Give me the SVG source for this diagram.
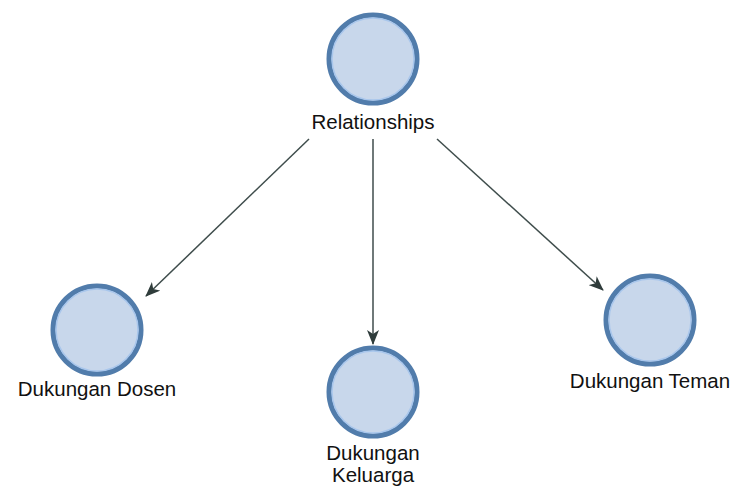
<svg xmlns="http://www.w3.org/2000/svg" width="740" height="489" viewBox="0 0 740 489">
<style>
.node-outer{fill:#c8d7eb;stroke:#517cab;stroke-width:5}
.node-inner{fill:none;stroke:#a8c6ec;stroke-width:1.5}
.label{font-family:"Liberation Sans",Arial,sans-serif;font-size:20.5px;fill:#111111;text-anchor:middle}
.edge{stroke:#3f4d4c;stroke-width:1.5;fill:none}
</style>
<defs>
<marker id="arrow" viewBox="0 0 15 12" refX="14" refY="6" markerWidth="15" markerHeight="12" markerUnits="userSpaceOnUse" orient="auto">
<path d="M0,0 L15,6 L0,12 L4,6 Z" fill="#2f3c3b"/>
</marker>
</defs>
<rect width="740" height="489" fill="#ffffff"/>
<g id="connectors">
<line class="edge" x1="309" y1="139" x2="146" y2="296" marker-end="url(#arrow)"/>
<line class="edge" x1="373" y1="139" x2="373" y2="344" marker-end="url(#arrow)"/>
<line class="edge" x1="437" y1="139" x2="603" y2="290" marker-end="url(#arrow)"/>
</g>
<g id="relationships">
<circle class="node-outer" cx="373" cy="59" r="44"/>
<circle class="node-inner" cx="373" cy="59" r="41"/>
<text class="label" x="373" y="129">Relationships</text>
</g>
<g id="dukungan-dosen">
<circle class="node-outer" cx="97" cy="330" r="44"/>
<circle class="node-inner" cx="97" cy="330" r="41"/>
<text class="label" x="97" y="396">Dukungan Dosen</text>
</g>
<g id="dukungan-keluarga">
<circle class="node-outer" cx="373" cy="392" r="44"/>
<circle class="node-inner" cx="373" cy="392" r="41"/>
<text class="label" x="373" y="460">Dukungan</text>
<text class="label" x="373" y="482">Keluarga</text>
</g>
<g id="dukungan-teman">
<circle class="node-outer" cx="650" cy="320" r="44"/>
<circle class="node-inner" cx="650" cy="320" r="41"/>
<text class="label" x="650" y="388">Dukungan Teman</text>
</g>
</svg>
